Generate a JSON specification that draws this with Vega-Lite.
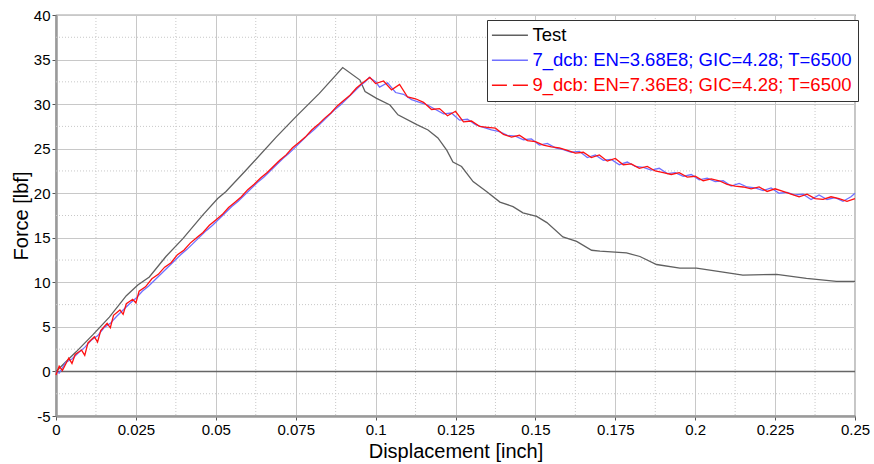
{
  "$schema": "https://vega.github.io/schema/vega-lite/v6.json",
  "width": 799,
  "height": 401,
  "autosize": {"type": "none"},
  "padding": {"left": 56, "top": 15, "right": 19, "bottom": 48},
  "background": "#ffffff",
  "config": {
    "font": "Liberation Sans",
    "view": {"stroke": "#444444", "strokeWidth": 1.2}
  },
  "datasets": {
    "minorx": [{"x": 0.0125}, {"x": 0.0375}, {"x": 0.0625}, {"x": 0.0875}, {"x": 0.1125}, {"x": 0.1375}, {"x": 0.1625}, {"x": 0.1875}, {"x": 0.2125}, {"x": 0.2375}],
    "minory": [{"f": -2.5}, {"f": 2.5}, {"f": 7.5}, {"f": 12.5}, {"f": 17.5}, {"f": 22.5}, {"f": 27.5}, {"f": 32.5}, {"f": 37.5}],
    "zero": [{"f": 0}],
    "test": [
      {"x": 0, "f": 0}, {"x": 0.0063, "f": 2.2}, {"x": 0.0115, "f": 4.1}, {"x": 0.0167, "f": 6.1}, {"x": 0.022, "f": 8.5},
      {"x": 0.0256, "f": 9.7}, {"x": 0.0292, "f": 10.6}, {"x": 0.0344, "f": 12.9}, {"x": 0.0397, "f": 14.9}, {"x": 0.0459, "f": 17.55},
      {"x": 0.0506, "f": 19.4}, {"x": 0.0532, "f": 20.2}, {"x": 0.0595, "f": 22.6}, {"x": 0.0689, "f": 26.3}, {"x": 0.0751, "f": 28.6},
      {"x": 0.0824, "f": 31.2}, {"x": 0.0897, "f": 34.1}, {"x": 0.0951, "f": 32.7}, {"x": 0.0967, "f": 31.4}, {"x": 0.1003, "f": 30.65},
      {"x": 0.1045, "f": 29.9}, {"x": 0.107, "f": 28.8}, {"x": 0.1129, "f": 27.7}, {"x": 0.1164, "f": 27.1}, {"x": 0.1195, "f": 26.2},
      {"x": 0.1223, "f": 24.8}, {"x": 0.1242, "f": 23.5}, {"x": 0.1269, "f": 23.0}, {"x": 0.1305, "f": 21.3}, {"x": 0.1347, "f": 20.2},
      {"x": 0.1389, "f": 19.0}, {"x": 0.143, "f": 18.5}, {"x": 0.1461, "f": 17.8}, {"x": 0.1504, "f": 17.4}, {"x": 0.1536, "f": 16.7},
      {"x": 0.1586, "f": 15.1}, {"x": 0.1629, "f": 14.6}, {"x": 0.1676, "f": 13.6}, {"x": 0.1702, "f": 13.5}, {"x": 0.1785, "f": 13.3},
      {"x": 0.1827, "f": 12.9}, {"x": 0.1879, "f": 12.0}, {"x": 0.1952, "f": 11.6}, {"x": 0.2004, "f": 11.6}, {"x": 0.2077, "f": 11.2},
      {"x": 0.2149, "f": 10.8}, {"x": 0.2255, "f": 10.9}, {"x": 0.2348, "f": 10.45}, {"x": 0.2442, "f": 10.1}, {"x": 0.25, "f": 10.1}
    ],
    "blue": [
      {"x": 0, "f": 0.0}, {"x": 0.001, "f": -0.2}, {"x": 0.003, "f": 1.0}, {"x": 0.005, "f": 1.4}, {"x": 0.007, "f": 2.1},
      {"x": 0.009, "f": 2.7}, {"x": 0.011, "f": 3.5}, {"x": 0.013, "f": 4.0}, {"x": 0.015, "f": 4.9}, {"x": 0.017, "f": 5.4},
      {"x": 0.019, "f": 6.2}, {"x": 0.021, "f": 6.9}, {"x": 0.023, "f": 7.6}, {"x": 0.025, "f": 8.2}, {"x": 0.027, "f": 9.0},
      {"x": 0.029, "f": 9.6}, {"x": 0.031, "f": 10.3}, {"x": 0.033, "f": 11.0}, {"x": 0.035, "f": 11.7}, {"x": 0.037, "f": 12.4},
      {"x": 0.039, "f": 13.1}, {"x": 0.041, "f": 13.7}, {"x": 0.043, "f": 14.4}, {"x": 0.045, "f": 15.1}, {"x": 0.047, "f": 15.8},
      {"x": 0.049, "f": 16.4}, {"x": 0.051, "f": 17.1}, {"x": 0.053, "f": 17.8}, {"x": 0.055, "f": 18.5}, {"x": 0.057, "f": 19.1},
      {"x": 0.059, "f": 19.8}, {"x": 0.061, "f": 20.5}, {"x": 0.063, "f": 21.2}, {"x": 0.065, "f": 21.8}, {"x": 0.067, "f": 22.5},
      {"x": 0.069, "f": 23.2}, {"x": 0.071, "f": 23.9}, {"x": 0.073, "f": 24.5}, {"x": 0.075, "f": 25.2}, {"x": 0.077, "f": 25.9},
      {"x": 0.079, "f": 26.6}, {"x": 0.081, "f": 27.2}, {"x": 0.083, "f": 27.9}, {"x": 0.085, "f": 28.6}, {"x": 0.087, "f": 29.3},
      {"x": 0.089, "f": 29.9}, {"x": 0.091, "f": 30.6}, {"x": 0.093, "f": 31.3}, {"x": 0.095, "f": 32.0}, {"x": 0.097, "f": 32.6},
      {"x": 0.098, "f": 33.0}, {"x": 0.1, "f": 32.5}, {"x": 0.10125, "f": 31.9}, {"x": 0.10375, "f": 32.4}, {"x": 0.10625, "f": 31.3},
      {"x": 0.10875, "f": 31.1}, {"x": 0.11125, "f": 30.5}, {"x": 0.11375, "f": 30.2}, {"x": 0.11625, "f": 29.9}, {"x": 0.11875, "f": 29.4},
      {"x": 0.12125, "f": 28.9}, {"x": 0.12375, "f": 29.0}, {"x": 0.12625, "f": 28.2}, {"x": 0.12875, "f": 28.3}, {"x": 0.13125, "f": 27.7},
      {"x": 0.13375, "f": 27.4}, {"x": 0.13625, "f": 27.1}, {"x": 0.13875, "f": 26.9}, {"x": 0.14125, "f": 26.5}, {"x": 0.14375, "f": 26.4},
      {"x": 0.14625, "f": 26.0}, {"x": 0.14875, "f": 26.1}, {"x": 0.15125, "f": 25.4}, {"x": 0.15375, "f": 25.6}, {"x": 0.15625, "f": 25.1},
      {"x": 0.15875, "f": 24.9}, {"x": 0.16125, "f": 24.6}, {"x": 0.16375, "f": 24.7}, {"x": 0.16625, "f": 24.0}, {"x": 0.16875, "f": 24.3},
      {"x": 0.17125, "f": 23.7}, {"x": 0.17375, "f": 23.8}, {"x": 0.17625, "f": 23.2}, {"x": 0.17875, "f": 23.5}, {"x": 0.18125, "f": 23.0},
      {"x": 0.18375, "f": 22.9}, {"x": 0.18625, "f": 22.6}, {"x": 0.18875, "f": 22.8}, {"x": 0.19125, "f": 22.2}, {"x": 0.19375, "f": 22.3},
      {"x": 0.19625, "f": 21.9}, {"x": 0.19875, "f": 22.1}, {"x": 0.20125, "f": 21.5}, {"x": 0.20375, "f": 21.7}, {"x": 0.20625, "f": 21.3},
      {"x": 0.20875, "f": 21.4}, {"x": 0.21125, "f": 20.8}, {"x": 0.21375, "f": 21.1}, {"x": 0.21625, "f": 20.7}, {"x": 0.21875, "f": 20.6},
      {"x": 0.22125, "f": 20.3}, {"x": 0.22375, "f": 20.6}, {"x": 0.22625, "f": 20.0}, {"x": 0.22875, "f": 20.1}, {"x": 0.23125, "f": 19.8},
      {"x": 0.23375, "f": 19.9}, {"x": 0.23625, "f": 19.3}, {"x": 0.23875, "f": 19.8}, {"x": 0.24125, "f": 19.3}, {"x": 0.24375, "f": 19.5},
      {"x": 0.24625, "f": 19.1}, {"x": 0.24875, "f": 19.6}, {"x": 0.25, "f": 20.0}
    ],
    "red": [
      {"x": 0, "f": -0.4}, {"x": 0.001, "f": 0.6}, {"x": 0.002, "f": 0.1}, {"x": 0.004, "f": 1.5}, {"x": 0.005, "f": 0.9},
      {"x": 0.006, "f": 1.9}, {"x": 0.008, "f": 2.4}, {"x": 0.009, "f": 1.8}, {"x": 0.01, "f": 3.2}, {"x": 0.012, "f": 3.9},
      {"x": 0.013, "f": 3.3}, {"x": 0.014, "f": 4.6}, {"x": 0.016, "f": 5.4}, {"x": 0.017, "f": 4.9}, {"x": 0.018, "f": 6.3},
      {"x": 0.02, "f": 6.9}, {"x": 0.021, "f": 6.4}, {"x": 0.022, "f": 7.6}, {"x": 0.024, "f": 8.1}, {"x": 0.025, "f": 7.7},
      {"x": 0.026, "f": 9.0}, {"x": 0.028, "f": 9.5}, {"x": 0.03, "f": 10.4}, {"x": 0.032, "f": 10.9}, {"x": 0.034, "f": 11.7},
      {"x": 0.036, "f": 12.2}, {"x": 0.038, "f": 13.1}, {"x": 0.04, "f": 13.6}, {"x": 0.042, "f": 14.4}, {"x": 0.044, "f": 15.0},
      {"x": 0.046, "f": 15.6}, {"x": 0.048, "f": 16.4}, {"x": 0.05, "f": 17.0}, {"x": 0.052, "f": 17.6}, {"x": 0.054, "f": 18.4},
      {"x": 0.056, "f": 19.0}, {"x": 0.058, "f": 19.6}, {"x": 0.06, "f": 20.4}, {"x": 0.062, "f": 21.0}, {"x": 0.064, "f": 21.7},
      {"x": 0.066, "f": 22.3}, {"x": 0.068, "f": 23.0}, {"x": 0.07, "f": 23.7}, {"x": 0.072, "f": 24.3}, {"x": 0.074, "f": 25.1},
      {"x": 0.076, "f": 25.7}, {"x": 0.078, "f": 26.3}, {"x": 0.08, "f": 27.1}, {"x": 0.082, "f": 27.7}, {"x": 0.084, "f": 28.4},
      {"x": 0.086, "f": 29.0}, {"x": 0.088, "f": 29.8}, {"x": 0.09, "f": 30.4}, {"x": 0.092, "f": 31.0}, {"x": 0.094, "f": 31.8},
      {"x": 0.096, "f": 32.4}, {"x": 0.0982, "f": 33.0}, {"x": 0.1, "f": 32.3}, {"x": 0.1025, "f": 32.6}, {"x": 0.105, "f": 31.6},
      {"x": 0.1075, "f": 32.2}, {"x": 0.11, "f": 30.8}, {"x": 0.1125, "f": 30.6}, {"x": 0.115, "f": 30.2}, {"x": 0.1175, "f": 29.4},
      {"x": 0.12, "f": 29.5}, {"x": 0.1225, "f": 28.7}, {"x": 0.125, "f": 29.2}, {"x": 0.1275, "f": 28.0}, {"x": 0.13, "f": 28.1},
      {"x": 0.1325, "f": 27.5}, {"x": 0.135, "f": 27.4}, {"x": 0.1375, "f": 27.3}, {"x": 0.14, "f": 26.6}, {"x": 0.1425, "f": 26.3},
      {"x": 0.145, "f": 26.5}, {"x": 0.1475, "f": 25.9}, {"x": 0.15, "f": 25.8}, {"x": 0.1525, "f": 25.4}, {"x": 0.155, "f": 25.2},
      {"x": 0.1575, "f": 25.1}, {"x": 0.16, "f": 24.8}, {"x": 0.1625, "f": 24.5}, {"x": 0.165, "f": 24.6}, {"x": 0.1675, "f": 24.0},
      {"x": 0.17, "f": 24.3}, {"x": 0.1725, "f": 23.6}, {"x": 0.175, "f": 23.9}, {"x": 0.1775, "f": 23.2}, {"x": 0.18, "f": 23.3},
      {"x": 0.1825, "f": 22.8}, {"x": 0.185, "f": 23.0}, {"x": 0.1875, "f": 22.5}, {"x": 0.19, "f": 22.3}, {"x": 0.1925, "f": 22.1},
      {"x": 0.195, "f": 22.3}, {"x": 0.1975, "f": 21.8}, {"x": 0.2, "f": 21.9}, {"x": 0.2025, "f": 21.4}, {"x": 0.205, "f": 21.6},
      {"x": 0.2075, "f": 21.4}, {"x": 0.21, "f": 21.0}, {"x": 0.2125, "f": 20.8}, {"x": 0.215, "f": 20.7}, {"x": 0.2175, "f": 20.5},
      {"x": 0.22, "f": 20.7}, {"x": 0.2225, "f": 20.2}, {"x": 0.225, "f": 20.5}, {"x": 0.2275, "f": 20.2}, {"x": 0.23, "f": 19.9},
      {"x": 0.2325, "f": 19.6}, {"x": 0.235, "f": 19.9}, {"x": 0.2375, "f": 19.4}, {"x": 0.24, "f": 19.3}, {"x": 0.2425, "f": 19.6},
      {"x": 0.245, "f": 19.4}, {"x": 0.2475, "f": 19.1}, {"x": 0.25, "f": 19.4}
    ]
  },
  "layer": [
    {
      "data": {"name": "minorx"},
      "mark": {"type": "rule", "color": "#c8c8c8", "strokeWidth": 1, "strokeDash": [1, 2]},
      "encoding": {
        "x": {
          "field": "x", "type": "quantitative",
          "scale": {"domain": [0, 0.25], "nice": false, "zero": false},
          "axis": {
            "title": "Displacement [inch]",
            "values": [0, 0.025, 0.05, 0.075, 0.1, 0.125, 0.15, 0.175, 0.2, 0.225, 0.25],
            "format": ".3~f",
            "labelFontSize": 15, "labelColor": "#000000", "labelOverlap": false, "labelBound": false, "labelFlush": false,
            "labelPadding": 2,
            "tickSize": 4, "tickColor": "#555555", "tickWidth": 1,
            "domainColor": "#9a9a9a", "domainWidth": 2.5,
            "grid": true, "gridColor": "#c8c8c8", "gridWidth": 1,
            "titleFontSize": 20, "titleFontWeight": "normal", "titleColor": "#000000", "titlePadding": 4
          }
        }
      }
    },
    {
      "data": {"name": "minory"},
      "mark": {"type": "rule", "color": "#c8c8c8", "strokeWidth": 1, "strokeDash": [1, 2]},
      "encoding": {
        "y": {
          "field": "f", "type": "quantitative",
          "scale": {"domain": [-5, 40], "nice": false, "zero": false},
          "axis": {
            "title": "Force [lbf]",
            "values": [-5, 0, 5, 10, 15, 20, 25, 30, 35, 40],
            "labelExpr": "'' + datum.value",
            "labelFontSize": 15, "labelColor": "#000000", "labelOverlap": false, "labelBound": false, "labelFlush": false,
            "labelPadding": 2,
            "tickSize": 4, "tickColor": "#555555", "tickWidth": 1,
            "domainColor": "#9a9a9a", "domainWidth": 2.5,
            "grid": true, "gridColor": "#c8c8c8", "gridWidth": 1,
            "titleFontSize": 20, "titleFontWeight": "normal", "titleColor": "#000000", "titlePadding": 2
          }
        }
      }
    },
    {
      "data": {"name": "zero"},
      "mark": {"type": "rule", "color": "#666666", "strokeWidth": 1.5},
      "encoding": {"y": {"field": "f", "type": "quantitative"}}
    },
    {
      "data": {"name": "test"},
      "mark": {"type": "line", "strokeWidth": 1.3},
      "encoding": {
        "x": {"field": "x", "type": "quantitative"},
        "y": {"field": "f", "type": "quantitative"},
        "color": {
          "datum": "Test",
          "scale": {
            "domain": ["Test", "7_dcb: EN=3.68E8; GIC=4.28; T=6500", "9_dcb: EN=7.36E8; GIC=4.28; T=6500"],
            "range": ["#606060", "#7070ff", "#ff1010"]
          },
          "legend": {
            "orient": "none", "legendX": 431, "legendY": 5,
            "title": null,
            "fillColor": "#ffffff", "strokeColor": "#333333", "padding": 6,
            "labelFontSize": 18.5, "labelLimit": 600, "labelOffset": 21,
            "symbolType": "M-1.29,0H3.21", "symbolSize": 256, "symbolStrokeWidth": 1.3,
            "rowPadding": 6,
            "encode": {
              "labels": {"update": {"fill": {"signal": "datum.value == 'Test' ? '#000000' : (indexof(datum.value, '7_dcb') == 0 ? '#0000ff' : '#ff0000')"}}},
              "symbols": {"update": {"strokeDash": {"signal": "indexof(datum.value, '9_dcb') == 0 ? [15, 6] : [1, 0]"}}}
            }
          }
        }
      }
    },
    {
      "data": {"name": "blue"},
      "mark": {"type": "line", "strokeWidth": 1.3},
      "encoding": {
        "x": {"field": "x", "type": "quantitative"},
        "y": {"field": "f", "type": "quantitative"},
        "color": {"datum": "7_dcb: EN=3.68E8; GIC=4.28; T=6500"}
      }
    },
    {
      "data": {"name": "red"},
      "mark": {"type": "line", "strokeWidth": 1.3},
      "encoding": {
        "x": {"field": "x", "type": "quantitative"},
        "y": {"field": "f", "type": "quantitative"},
        "color": {"datum": "9_dcb: EN=7.36E8; GIC=4.28; T=6500"}
      }
    }
  ]
}
